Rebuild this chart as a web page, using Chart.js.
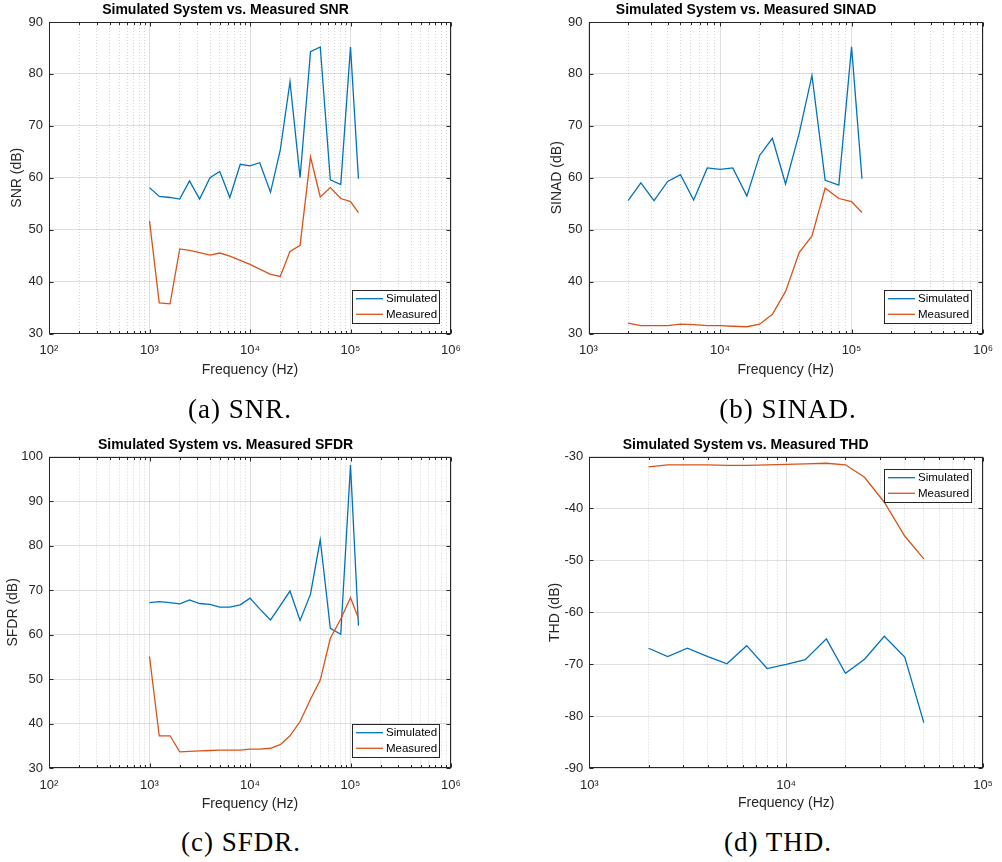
<!DOCTYPE html>
<html><head><meta charset="utf-8">
<script src="https://cdn.jsdelivr.net/npm/chart.js@4.4.1/dist/chart.umd.min.js"></script>
<style>
html,body{margin:0;padding:0;background:#fff;}
body{width:1002px;height:862px;position:relative;overflow:hidden;}
canvas{position:absolute;}
.cap{position:absolute;width:400px;text-align:center;font-family:"Liberation Serif","Times New Roman",serif;font-size:27px;letter-spacing:1px;line-height:28px;color:#000;white-space:nowrap;}
</style></head><body>
<canvas id="cA" width="500" height="395" style="left:0px;top:0px"></canvas>
<canvas id="cB" width="500" height="395" style="left:502px;top:0px"></canvas>
<canvas id="cC" width="500" height="395" style="left:0px;top:430px"></canvas>
<canvas id="cD" width="500" height="395" style="left:502px;top:430px"></canvas>
<div class="cap" style="left:40px;top:395px">(a) SNR.</div>
<div class="cap" style="left:588px;top:395px">(b) SINAD.</div>
<div class="cap" style="left:41px;top:828px">(c) SFDR.</div>
<div class="cap" style="left:578px;top:828px">(d) THD.</div>
<script>
// ---- data ----
const freqA = [1000,1250,1600,2000,2500,3150,4000,5000,6300,8000,10000,12500,16000,20000,25000,31500,40000,50000,63000,80000,100000,120000];
const snrSim  = [58.1,56.4,56.2,55.9,59.4,55.9,60.0,61.2,56.2,62.6,62.3,62.9,57.2,65.3,78.5,60.0,84.3,85.2,59.6,58.7,85.2,59.8];
const snrMeas = [51.7,35.9,35.7,46.3,46.0,45.6,45.1,45.5,44.9,44.1,43.3,42.4,41.4,41.0,45.8,47.0,64.0,56.3,58.1,56.0,55.4,53.3];

const freqB = [2000,2500,3150,4000,5000,6300,8000,10000,12500,16000,20000,25000,31500,40000,50000,63000,80000,100000,120000];
const sinadSim  = [55.6,59.0,55.6,59.3,60.6,55.7,61.9,61.6,61.9,56.5,64.3,67.6,58.8,68.6,79.7,59.5,58.6,85.2,59.8];
const sinadMeas = [32.0,31.5,31.5,31.5,31.8,31.7,31.5,31.5,31.4,31.3,31.8,33.7,38.1,45.6,48.8,58.0,56.0,55.4,53.3];

const freqC = [1000,1250,1600,2000,2500,3150,4000,5000,6300,8000,10000,12500,16000,20000,25000,31500,40000,50000,63000,80000,100000,120000];
const sfdrSim  = [67.2,67.4,67.2,66.9,67.8,67.0,66.8,66.2,66.2,66.7,68.2,65.8,63.3,66.5,69.8,63.2,69.1,81.3,61.4,60.1,98.1,62.0];
const sfdrMeas = [55.1,37.3,37.3,33.7,33.8,33.9,34.0,34.1,34.1,34.1,34.3,34.3,34.5,35.3,37.3,40.5,45.5,49.8,59.2,63.5,68.3,63.7];

const freqD = [2000,2500,3150,4000,5000,6300,8000,10000,12500,16000,20000,25000,31500,40000,50000];
const thdSim  = [-66.9,-68.5,-66.9,-68.5,-69.9,-66.4,-70.8,-70.0,-69.1,-65.1,-71.7,-69.0,-64.6,-68.6,-81.2];
const thdMeas = [-32.0,-31.6,-31.6,-31.6,-31.7,-31.7,-31.6,-31.5,-31.4,-31.3,-31.6,-34.0,-38.8,-45.3,-49.7];

const seriesNames = ['Simulated','Measured'];
const xLabel = 'Frequency (Hz)';

// ---- styling ----
const FONT = '"Liberation Sans", Arial, Helvetica, sans-serif';
const AXIS = '#262626';
const BLUE = '#0072BD', ORANGE = '#D95319';
const MAJOR = 'rgba(38,38,38,0.15)', MINOR = 'rgba(38,38,38,0.2)';
const SUPS = {'0':'\u2070','1':'\u00B9','2':'\u00B2','3':'\u00B3','4':'\u2074','5':'\u2075','6':'\u2076','7':'\u2077','8':'\u2078','9':'\u2079'};
const sup = n => String(n).split('').map(d => SUPS[d]).join('');
function isDecade(v){ const l = Math.log10(v); return Math.abs(l - Math.round(l)) < 1e-6; }
function logTicks(min, max){
  const out = [];
  for (let e = Math.round(Math.log10(min)); e < Math.round(Math.log10(max)); e++)
    for (let m = 1; m < 10; m++) out.push({value: m * Math.pow(10, e)});
  out.push({value: max});
  return out;
}

const framePlugin = {
  id: 'frame',
  afterDraw(chart, args, opts){
    const {ctx, chartArea: a, scales} = chart;
    ctx.save();
    ctx.strokeStyle = AXIS; ctx.lineWidth = 1;
    const L = Math.round(a.left) + 0.5, R = Math.round(a.right) - 0.5;
    const T = Math.round(a.top) + 0.5, B = Math.round(a.bottom) - 0.5;
    ctx.beginPath();
    scales.x.ticks.forEach(t => {
      const x = Math.round(scales.x.getPixelForValue(t.value)) + 0.5;
      const len = isDecade(t.value) ? 4 : 2.5;
      ctx.moveTo(x, B); ctx.lineTo(x, B - len);
      ctx.moveTo(x, T); ctx.lineTo(x, T + len);
    });
    scales.y.ticks.forEach(t => {
      const y = Math.round(scales.y.getPixelForValue(t.value)) + 0.5;
      ctx.moveTo(L, y); ctx.lineTo(L + 4, y);
      ctx.moveTo(R, y); ctx.lineTo(R - 4, y);
    });
    ctx.stroke();
    ctx.strokeRect(L, T, R - L, B - T);
    // legend box
    const w = 87, h = 33;
    const bx = Math.round(a.right - 12 - w);
    const by = Math.round(opts.legend === 'tr' ? a.top + 12 : a.bottom - 11 - h);
    ctx.fillStyle = '#fff';
    ctx.fillRect(bx, by, w, h);
    ctx.strokeStyle = AXIS; ctx.lineWidth = 1;
    ctx.strokeRect(bx + 0.5, by + 0.5, w, h);
    ctx.font = '11.5px ' + FONT;
    ctx.textBaseline = 'middle'; ctx.textAlign = 'left';
    chart.data.datasets.forEach((ds, i) => {
      const y = by + 8.7 + i * 15.6;
      ctx.strokeStyle = ds.borderColor; ctx.lineWidth = 1.3;
      ctx.beginPath(); ctx.moveTo(bx + 4, y); ctx.lineTo(bx + 31, y); ctx.stroke();
      ctx.fillStyle = '#000';
      ctx.fillText(ds.label, bx + 34, y + 0.5);
    });
    ctx.restore();
  }
};

function makeChart(id, p){
  const lh = 14 * 1.2;
  const H = 395, W = 500;
  new Chart(document.getElementById(id), {
    type: 'line',
    data: { datasets: [
      {label: seriesNames[0], data: p.freq.map((f, i) => ({x: f, y: p.sim[i]})), borderColor: BLUE, backgroundColor: BLUE, borderWidth: 1.3, pointRadius: 0, fill: false, tension: 0, order: 1},
      {label: seriesNames[1], data: p.freq.map((f, i) => ({x: f, y: p.meas[i]})), borderColor: ORANGE, backgroundColor: ORANGE, borderWidth: 1.3, pointRadius: 0, fill: false, tension: 0, order: 0}
    ]},
    options: {
      responsive: false, animation: false, devicePixelRatio: 1,
      layout: {padding: {left: 0, top: 0, right: p.cl + W - p.R, bottom: 0}},
      plugins: {
        legend: {display: false}, tooltip: {enabled: false},
        title: {display: true, text: p.title, color: '#000', font: {family: FONT, size: 14, weight: 'bold'},
                padding: {top: p.titleY - p.ct - lh / 2, bottom: p.T - p.titleY - lh / 2}},
        frame: {legend: p.legend}
      },
      scales: {
        x: {
          type: 'logarithmic', min: p.xmin, max: p.xmax,
          afterBuildTicks: s => { s.ticks = logTicks(p.xmin, p.xmax); },
          afterFit: s => { s.height = p.ct + H - p.B; },
          ticks: {autoSkip: false, maxRotation: 0, minRotation: 0, padding: 9, color: AXIS, font: {family: FONT, size: 13},
                  callback: v => isDecade(v) ? '10' + sup(Math.round(Math.log10(v))) : ''},
          grid: {drawTicks: false, lineWidth: 1, color: c => (c.tick && !isDecade(c.tick.value)) ? MINOR : MAJOR},
          border: {display: false, dash: c => (c.tick && !isDecade(c.tick.value)) ? [1, 2] : []},
          title: {display: true, text: xLabel, color: AXIS, font: {family: FONT, size: 14},
                  padding: {top: 0, bottom: p.ct + H - p.xTitleY - lh / 2}}
        },
        y: {
          type: 'linear', min: p.ymin, max: p.ymax,
          afterFit: s => { s.width = p.L - p.cl; },
          ticks: {stepSize: 10, padding: 6, color: AXIS, font: {family: FONT, size: 13}},
          grid: {drawTicks: false, color: MAJOR, lineWidth: 1},
          border: {display: false},
          title: {display: true, text: p.ylabel, color: AXIS, font: {family: FONT, size: 14},
                  padding: {top: p.yTitleX - p.cl - lh / 2, bottom: 0}}
        }
      }
    },
    plugins: [framePlugin]
  });
}

makeChart('cA', {cl: 0, ct: 0, L: 49, R: 451, T: 22, B: 333.5, titleY: 10, xTitleY: 370, yTitleX: 17,
  xmin: 100, xmax: 1e6, ymin: 30, ymax: 90, freq: freqA, sim: snrSim, meas: snrMeas,
  title: 'Simulated System vs. Measured SNR', ylabel: 'SNR (dB)', legend: 'br'});
makeChart('cB', {cl: 502, ct: 0, L: 588.5, R: 990.3, T: 22, B: 333.5, titleY: 10, xTitleY: 370, yTitleX: 556.7,
  xmin: 1000, xmax: 1e6, ymin: 30, ymax: 90, freq: freqB, sim: sinadSim, meas: sinadMeas,
  title: 'Simulated System vs. Measured SINAD', ylabel: 'SINAD (dB)', legend: 'br'});
makeChart('cC', {cl: 0, ct: 430, L: 49, R: 451, T: 456.5, B: 768.3, titleY: 445, xTitleY: 804, yTitleX: 12.7,
  xmin: 100, xmax: 1e6, ymin: 30, ymax: 100, freq: freqC, sim: sfdrSim, meas: sfdrMeas,
  title: 'Simulated System vs. Measured SFDR', ylabel: 'SFDR (dB)', legend: 'br'});
makeChart('cD', {cl: 502, ct: 430, L: 589.3, R: 989.3, T: 456.5, B: 768.3, titleY: 445, xTitleY: 803.5, yTitleX: 555,
  xmin: 1000, xmax: 1e5, ymin: -90, ymax: -30, freq: freqD, sim: thdSim, meas: thdMeas,
  title: 'Simulated System vs. Measured THD', ylabel: 'THD (dB)', legend: 'tr'});
</script>
</body></html>
